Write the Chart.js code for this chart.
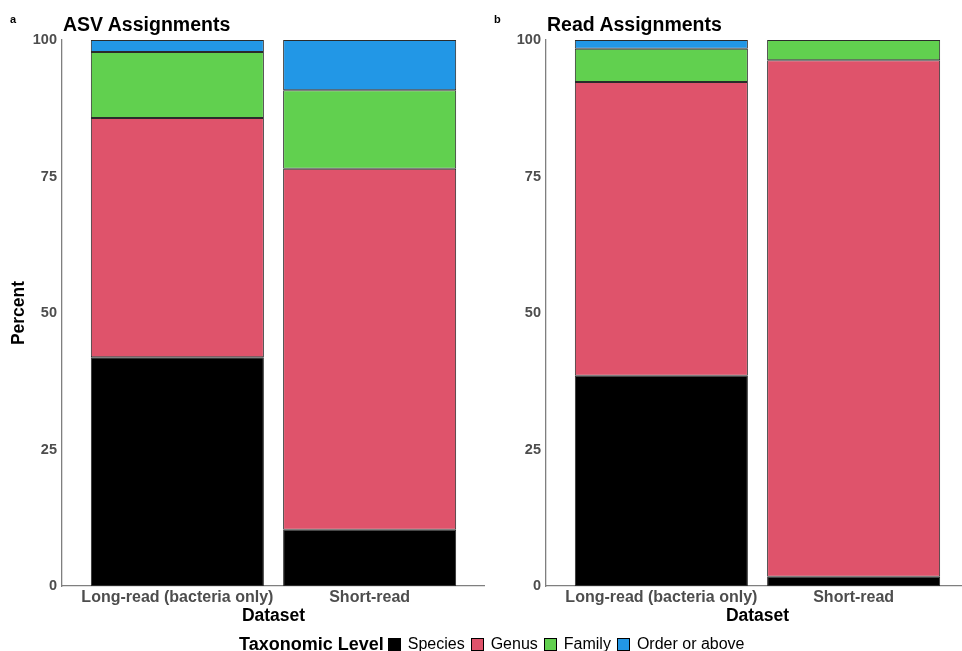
<!DOCTYPE html>
<html>
<head>
<meta charset="utf-8">
<script src="https://cdn.jsdelivr.net/npm/chart.js@4/dist/chart.umd.min.js"></script>
<style>
  html, body { margin: 0; padding: 0; background: #fff; overflow: hidden; }
  body { width: 962px; height: 651px; position: relative; font-family: "Liberation Sans", Arial, sans-serif; }
  canvas { position: absolute; top: 0; }
  #cA { left: 0; }
  #cB { left: 480px; }
  .tag { position: absolute; font-weight: bold; font-size: 11px; line-height: 11px; color: #000; }
  .ttl { position: absolute; font-weight: bold; font-size: 19.5px; line-height: 19.5px; color: #000; white-space: nowrap; }
  #legend { position: absolute; left: 239px; top: 635px; height: 18px; display: flex; align-items: center; white-space: nowrap; }
  #legend .lt { font-weight: bold; font-size: 18px; line-height: 18px; margin-right: 4px; }
  #legend .bx { width: 11px; height: 11px; border: 1px solid #000; margin-right: 7px; }
  #legend .lb { font-size: 16px; line-height: 18px; margin-right: 6px; color: #000; }
</style>
</head>
<body>
<canvas id="cA" width="485" height="640"></canvas>
<canvas id="cB" width="489" height="640"></canvas>
<div class="tag" style="left:10px;top:14px;">a</div>
<div class="ttl" style="left:63px;top:14.5px;">ASV Assignments</div>
<div class="tag" style="left:494px;top:14px;">b</div>
<div class="ttl" style="left:547px;top:14.5px;">Read Assignments</div>
<div id="legend"></div>
<script>
// Datasets on the x axis
const categories = ['Long-read (bacteria only)', 'Short-read'];

// Taxonomic levels (stack order bottom to top) and their colours
const levels = ['Species', 'Genus', 'Family', 'Order or above'];
const levelColors = ['#000000', '#DF536B', '#61D04F', '#2297E6'];

// Panel a: percent of ASVs assigned at each level
const asvSpecies = [41.9, 10.3];
const asvGenus   = [43.8, 66.1];
const asvFamily  = [12.1, 14.4];
const asvOrder   = [2.2, 9.2];

// Panel b: percent of reads assigned at each level
const readSpecies = [38.5, 1.7];
const readGenus   = [53.8, 94.6];
const readFamily  = [6.1, 3.7];
const readOrder   = [1.6, 0];

// Percent axis ticks
const yTicks = [0, 25, 50, 75, 100];

Chart.defaults.font.family = '"Liberation Sans", Arial, sans-serif';
Chart.defaults.color = '#4d4d4d';

function makeDatasets(series) {
  return series.map((vals, k) => ({
    label: levels[k],
    data: vals.map((v, i) => ({ x: i + 1, y: v })),
    backgroundColor: levelColors[k],
    borderColor: '#2b2b2b',
    borderWidth: 1,
    borderSkipped: false,
    categoryPercentage: 1,
    barPercentage: 0.9
  }));
}

function makeChart(id, series, axisWidth, showYTitle) {
  const ctx = document.getElementById(id);
  return new Chart(ctx, {
    type: 'bar',
    data: { datasets: makeDatasets(series) },
    options: {
      responsive: false,
      devicePixelRatio: 1,
      animation: false,
      layout: { padding: { top: 40, left: 0, right: 0, bottom: 0 } },
      plugins: { legend: { display: false }, tooltip: { enabled: false } },
      scales: {
        x: {
          type: 'linear',
          stacked: true,
          offset: false,
          min: 0.4,
          max: 2.6,
          afterBuildTicks: (s) => { s.ticks = categories.map((c, i) => ({ value: i + 1 })); },
          afterFit: (s) => { s.height = 54; },
          ticks: {
            callback: (v) => categories[v - 1],
            color: '#4d4d4d',
            font: { size: 16, weight: 'bold' },
            padding: 2,
            maxRotation: 0,
            autoSkip: false
          },
          grid: { display: false, drawTicks: false, offset: false },
          border: { display: true, color: '#7f7f7f', width: 1.3 },
          title: {
            display: true,
            text: 'Dataset',
            color: '#000',
            font: { size: 17.5, weight: 'bold' },
            padding: { top: 0, bottom: 13.5 }
          }
        },
        y: {
          stacked: true,
          min: 0,
          max: 100,
          afterBuildTicks: (s) => { s.ticks = yTicks.map(v => ({ value: v })); },
          afterFit: (s) => { s.width = axisWidth; },
          ticks: {
            color: '#4d4d4d',
            font: { size: 14.5, weight: 'bold' },
            padding: 5
          },
          grid: { display: false, drawTicks: false },
          border: { display: true, color: '#7f7f7f', width: 1.3 },
          title: {
            display: showYTitle,
            text: 'Percent',
            color: '#000',
            font: { size: 17.5, weight: 'bold' },
            padding: { top: 9, bottom: 0 }
          }
        }
      }
    }
  });
}

makeChart('cA', [asvSpecies, asvGenus, asvFamily, asvOrder], 62, true);
makeChart('cB', [readSpecies, readGenus, readFamily, readOrder], 66, false);

// Shared legend
const lg = document.getElementById('legend');
const t = document.createElement('span');
t.className = 'lt';
t.textContent = 'Taxonomic Level';
lg.appendChild(t);
levels.forEach((name, k) => {
  const b = document.createElement('span');
  b.className = 'bx';
  b.style.background = levelColors[k];
  lg.appendChild(b);
  const l = document.createElement('span');
  l.className = 'lb';
  l.textContent = name;
  lg.appendChild(l);
});
</script>
</body>
</html>
